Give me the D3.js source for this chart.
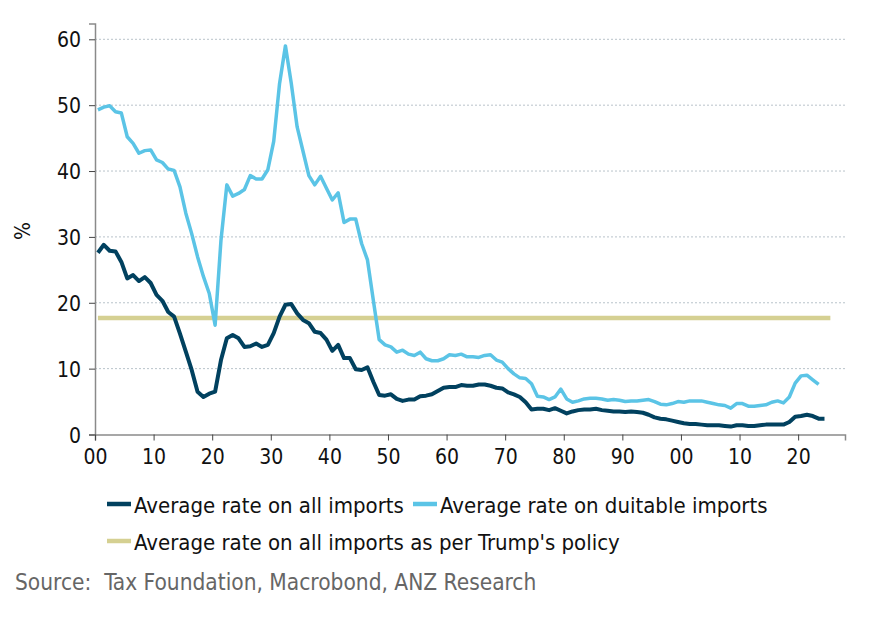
<!DOCTYPE html>
<html>
<head>
<meta charset="utf-8">
<script src="https://cdnjs.cloudflare.com/ajax/libs/d3/7.8.5/d3.min.js"></script>
<style>
  html, body { margin: 0; padding: 0; background: #fff; }
  svg text { font-family: "DejaVu Sans Condensed", "DejaVu Sans", sans-serif; font-stretch: condensed; white-space: pre; }
</style>
</head>
<body>
<svg id="chart" width="885" height="623"></svg>
<script>
// ---- Data (annual, first year 1900) ----
const startYear = 1900;
const allImports = [
  27.6, 28.8, 27.9, 27.8, 26.2, 23.7, 24.2, 23.3, 23.9, 23.0,
  21.2, 20.3, 18.6, 17.9, 15.3, 12.6, 9.8, 6.5, 5.7, 6.2,
  6.5, 11.3, 14.6, 15.1, 14.6, 13.3, 13.4, 13.8, 13.3, 13.6,
  15.4, 17.9, 19.7, 19.8, 18.4, 17.4, 16.9, 15.6, 15.4, 14.4,
  12.7, 13.6, 11.6, 11.6, 9.9, 9.8, 10.2, 8.0, 6.0, 5.9,
  6.1, 5.4, 5.1, 5.3, 5.3, 5.8, 5.9, 6.1, 6.6, 7.1,
  7.2, 7.2, 7.5, 7.4, 7.4, 7.6, 7.6, 7.4, 7.1, 7.0,
  6.4, 6.1, 5.7, 4.9, 3.8, 3.9, 3.9, 3.7, 4.0, 3.6,
  3.2, 3.5, 3.7, 3.8, 3.8, 3.9, 3.7, 3.6, 3.5, 3.5,
  3.4, 3.5, 3.4, 3.3, 3.0, 2.6, 2.4, 2.3, 2.1, 1.9,
  1.7, 1.6, 1.6, 1.5, 1.4, 1.4, 1.4, 1.3, 1.2, 1.4,
  1.4, 1.3, 1.3, 1.4, 1.5, 1.5, 1.5, 1.5, 1.9, 2.7,
  2.8, 3.0, 2.8, 2.4, 2.4
];
const dutiableImports = [
  49.3, 49.7, 49.9, 49.0, 48.8, 45.2, 44.2, 42.7, 43.1, 43.2,
  41.7, 41.3, 40.3, 40.1, 37.6, 33.6, 30.5, 27.0, 24.0, 21.4,
  16.6, 29.5, 37.9, 36.2, 36.6, 37.2, 39.3, 38.8, 38.8, 40.2,
  44.5, 53.3, 59.0, 53.3, 46.7, 43.0, 39.3, 37.9, 39.2, 37.4,
  35.6, 36.7, 32.2, 32.7, 32.7, 29.0, 26.5, 20.4, 14.4, 13.6,
  13.3, 12.5, 12.8, 12.2, 12.0, 12.5, 11.5, 11.2, 11.2, 11.5,
  12.1, 12.0, 12.2, 11.8, 11.8, 11.7, 12.0, 12.1, 11.3, 11.0,
  10.0, 9.2, 8.6, 8.5, 7.7, 5.8, 5.7, 5.3, 5.7, 6.9,
  5.4, 4.9, 5.1, 5.4, 5.5, 5.5, 5.4, 5.2, 5.3, 5.2,
  5.0, 5.1, 5.1, 5.2, 5.3, 5.0, 4.6, 4.5, 4.7, 5.0,
  4.9, 5.1, 5.1, 5.1, 4.9, 4.7, 4.5, 4.4, 4.0, 4.7,
  4.7, 4.3, 4.3, 4.4, 4.5, 4.9, 5.1, 4.8, 5.7, 7.8,
  8.9, 9.0, 8.3, 7.6
];
const trumpRate = 17.7;
const trumpYears = [1900, 2025];
const yTicks = [0, 10, 20, 30, 40, 50, 60];
const xTicks = [1900, 1910, 1920, 1930, 1940, 1950, 1960, 1970, 1980, 1990, 2000, 2010, 2020];
const seriesNames = ["Average rate on all imports", "Average rate on duitable imports", "Average rate on all imports as per Trump's policy"];
const sourceText = "Source:  Tax Foundation, Macrobond, ANZ Research";
const yLabel = "%";

// ---- Layout ----
const colors = { all: "#01415f", dut: "#5bc4e6", trump: "#d5d092" };
const svg = d3.select("#chart");
const plotL = 95, plotR = 845, plotT = 23.5, plotB = 434.5;

const x = d3.scaleLinear().domain([1900, 2028]).range([plotL, plotR]);
const y = d3.scaleLinear().domain([0, 62.4]).range([plotB, plotT]);

// annual observations plotted at mid-year
const toPts = arr => arr.map((v, i) => ({ yr: startYear + i + 0.5, v }));

// gridlines
svg.append("g").selectAll("line").data(yTicks.filter(d => d > 0)).join("line")
  .attr("x1", plotL).attr("x2", plotR)
  .attr("y1", d => y(d)).attr("y2", d => y(d))
  .attr("stroke", "#b9c3ca").attr("stroke-width", 1).attr("stroke-dasharray", "2,2");

// y axis
const yAxis = svg.append("g").attr("transform", `translate(${plotL},0)`)
  .call(d3.axisLeft(y).tickValues(yTicks).tickSize(6).tickPadding(8).tickFormat(d3.format("d")));
yAxis.select(".domain").attr("stroke", "#8a8a8a").attr("stroke-width", 1.5);
yAxis.selectAll(".tick line").attr("stroke", "#444");
yAxis.selectAll("text").attr("font-size", 21).attr("fill", "#111").attr("dy", "0.36em");

// x axis
const xAxis = svg.append("g").attr("transform", `translate(0,${plotB})`)
  .call(d3.axisBottom(x).tickValues(xTicks).tickSize(6).tickPadding(9)
    .tickFormat(d => String(d % 100).padStart(2, "0")));
xAxis.select(".domain").attr("stroke", "#8a8a8a").attr("stroke-width", 1.5);
xAxis.selectAll(".tick line").attr("stroke", "#444");
xAxis.selectAll("text").attr("font-size", 21).attr("fill", "#111");

// y label
svg.append("text").attr("transform", "translate(30,231) rotate(-90)")
  .attr("text-anchor", "middle").attr("font-size", 21).attr("fill", "#111").text(yLabel);

// lines
const line = d3.line().x(d => x(d.yr)).y(d => y(d.v));
svg.append("path").datum(trumpYears.map(yr => ({ yr: yr + 0.5, v: trumpRate })))
  .attr("d", line).attr("fill", "none").attr("stroke", colors.trump).attr("stroke-width", 4.5);
svg.append("path").datum(toPts(dutiableImports))
  .attr("d", line).attr("fill", "none").attr("stroke", colors.dut).attr("stroke-width", 3.5)
  .attr("stroke-linejoin", "round");
svg.append("path").datum(toPts(allImports))
  .attr("d", line).attr("fill", "none").attr("stroke", colors.all).attr("stroke-width", 4)
  .attr("stroke-linejoin", "round");

// legend
const legend = [
  { name: seriesNames[0], color: colors.all, lx: 107, ly: 504 },
  { name: seriesNames[1], color: colors.dut, lx: 413, ly: 504 },
  { name: seriesNames[2], color: colors.trump, lx: 107, ly: 541 }
];
const lg = svg.append("g");
legend.forEach(d => {
  lg.append("line").attr("x1", d.lx).attr("x2", d.lx + 24).attr("y1", d.ly).attr("y2", d.ly)
    .attr("stroke", d.color).attr("stroke-width", 4.5);
  lg.append("text").attr("x", d.lx + 27).attr("y", d.ly + 9).attr("font-size", 22)
    .attr("fill", "#111").text(d.name);
});

// source
svg.append("text").attr("x", 15).attr("y", 590).attr("font-size", 22.5)
  .attr("fill", "#666").attr("xml:space", "preserve").text(sourceText);
</script>
</body>
</html>
